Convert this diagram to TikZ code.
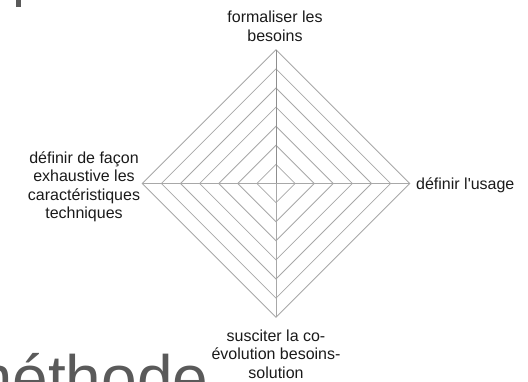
\documentclass[tikz,border=0pt]{standalone}
\usepackage{fontspec}
\setmainfont{Liberation Sans}
\definecolor{gridgray}{HTML}{A8A8A8}
\definecolor{spokegray}{HTML}{8E8E8E}
\definecolor{titlegray}{HTML}{5A5A5A}
\definecolor{labelink}{HTML}{1A1A1A}
\begin{document}
\begin{tikzpicture}[x=1pt,y=-1pt,
  gridline/.style={draw=gridgray,line width=0.8pt,line join=miter},
  spoke/.style={draw=spokegray,line width=0.9pt},
  lbl/.style={font=\fontsize{16}{18.5}\selectfont,align=center,inner sep=0pt,text=labelink},
  bigtitle/.style={font=\fontsize{64}{64}\selectfont,inner sep=0pt,text=titlegray}]
\useasboundingbox (0,0) rectangle (528,381);
\clip (0,0) rectangle (528,381);

% radar centre and outer vertices
\coordinate (c) at (276,183.5);
\coordinate (vt) at (276,49.8);
\coordinate (vr) at (409.7,183.5);
\coordinate (vb) at (276,317.2);
\coordinate (vl) at (142.3,183.5);

% concentric diamond rings
\foreach \k in {1,...,7}{
  \pgfmathsetmacro{\r}{19.1*\k}
  \draw[gridline] (276,183.5-\r) -- (276+\r,183.5) -- (276,183.5+\r) -- (276-\r,183.5) -- cycle;
}

% axes
\draw[spoke] (c) -- (vt);
\draw[gridline] (c) -- (vb);
\draw[gridline] (vl) -- (vr);

% axis labels (base anchor sits on the last line)
\node[lbl,anchor=base] (ltop) at (275,41) {formaliser les\\besoins};
\node[lbl,anchor=base west] (lright) at (416,189) {définir l\textquotesingle usage};
\node[lbl,anchor=base] (lleft) at (84,218.5) {définir de façon\\exhaustive les\\caractéristiques\\techniques};
\node[lbl,anchor=base] (lbottom) at (276,378) {susciter la co-\\évolution besoins-\\solution};

% large heading text running off the edges
\node[bigtitle,anchor=base west] (title) at (-41,400) {méthode};
\fill[titlegray] (16,0) rectangle (21,7);
\end{tikzpicture}
\end{document}
